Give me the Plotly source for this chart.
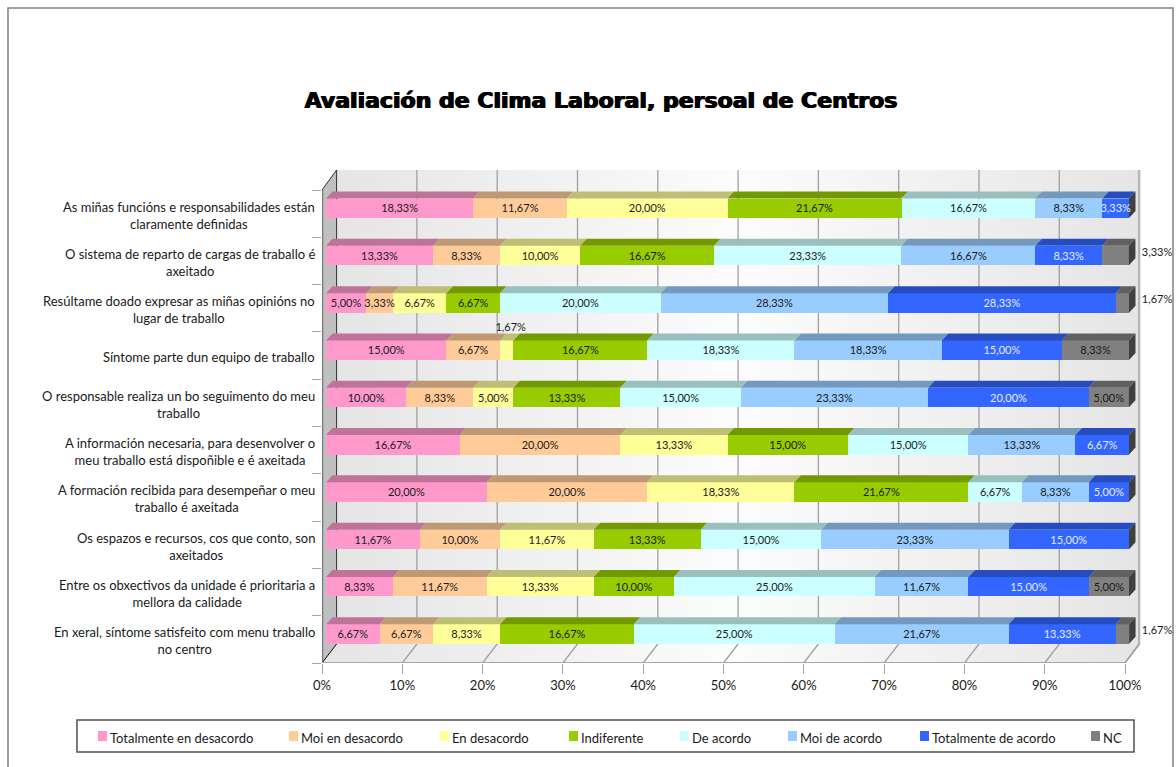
"""
Avaliacion de Clima Laboral, stacked 3D look bars
"""
import numpy as np
import plotly.graph_objs as go

categories = [
    "As miñas funcións e responsabilidades están<br>claramente definidas",
    "O sistema de reparto de cargas de traballo é<br>axeitado",
    "Resúltame doado expresar as miñas opinións no<br>lugar de traballo",
    "Síntome parte dun equipo de traballo",
    "O responsable realiza un bo seguimento do meu<br>traballo",
    "A información necesaria, para desenvolver o<br>meu traballo está dispoñible e é axeitada",
    "A formación recibida para desempeñar o meu<br>traballo é axeitada",
    "Os espazos e recursos, cos que conto, son<br>axeitados",
    "Entre os obxectivos da unidade é prioritaria a<br>mellora da calidade",
    "En xeral, síntome satisfeito com menu traballo<br>no centro",
]
totalmente_desacordo = [18.33, 13.33, 5.00, 15.00, 10.00, 16.67, 20.00, 11.67, 8.33, 6.67]
moi_desacordo = [11.67, 8.33, 3.33, 6.67, 8.33, 20.00, 20.00, 10.00, 11.67, 6.67]
en_desacordo = [20.00, 10.00, 6.67, 1.67, 5.00, 13.33, 18.33, 11.67, 13.33, 8.33]
indiferente = [21.67, 16.67, 6.67, 16.67, 13.33, 15.00, 21.67, 13.33, 10.00, 16.67]
de_acordo = [16.67, 23.33, 20.00, 18.33, 15.00, 15.00, 6.67, 15.00, 25.00, 25.00]
moi_acordo = [8.33, 16.67, 28.33, 18.33, 23.33, 13.33, 8.33, 23.33, 11.67, 21.67]
totalmente_acordo = [3.33, 8.33, 28.33, 15.00, 20.00, 6.67, 5.00, 15.00, 15.00, 13.33]
nc = [0, 3.33, 1.67, 8.33, 5.00, 0, 0, 0, 5.00, 1.67]
tick_values = [0, 10, 20, 30, 40, 50, 60, 70, 80, 90, 100]

series = [
    ("Totalmente en desacordo", totalmente_desacordo, "#FF99CC", "#BF7399"),
    ("Moi en desacordo", moi_desacordo, "#FFCC99", "#BF9973"),
    ("En desacordo", en_desacordo, "#FFFF99", "#BFBF73"),
    ("Indiferente", indiferente, "#99CC00", "#739900"),
    ("De acordo", de_acordo, "#CCFFFF", "#99BFBF"),
    ("Moi de acordo", moi_acordo, "#99CCFF", "#7399BF"),
    ("Totalmente de acordo", totalmente_acordo, "#3366FF", "#264DBF"),
    ("NC", nc, "#808080", "#606060"),
]
legend_left = [98, 289, 440, 569, 680, 788, 920, 1091]

# pixel frame of the chart, plot area runs to the page edge so the side labels survive
W, H = 1176, 767
LEFT, WALL_RIGHT, TOP, FLOOR = 322, 1139, 170, 663
PX_X = 8.03
PX_Y = 47.3
DEPTH_X = 14.6 / PX_X
DEPTH_Y = 19 / PX_Y
BAR_DX = 6.5 / PX_X
BAR_DY = 7 / PX_Y
BAR_H = 19.5 / PX_Y
SHIFT_X = 4 / PX_X
SHIFT_Y = 5.35 / PX_Y
FONT = "Lato"

x_wall = (WALL_RIGHT - LEFT) / PX_X
x_max = (W - LEFT) / PX_X
y_top = 9.5 - (FLOOR - TOP) / PX_Y


def fx(px):
    return (px - LEFT) / (W - LEFT)


def fy(py):
    return (FLOOR - py) / (FLOOR - TOP)


def label(v):
    return f"{v:.2f}%".replace(".", ",")


def wall(xs, ys, stops):
    return go.Scatter(x=xs, y=ys, mode="lines", fill="toself", line=dict(width=0),
                      fillgradient=dict(type="horizontal", colorscale=stops),
                      hoverinfo="skip", showlegend=False)


def edge(xs, ys, color, width=1):
    return go.Scatter(x=xs, y=ys, mode="lines", line=dict(color=color, width=width),
                      hoverinfo="skip", showlegend=False, cliponaxis=False)


fig = go.Figure()

# walls and floor live on the back axes
shade = [[0, "#E5E5E5"], [0.5, "#FCFCFC"], [1, "#E5E5E5"]]
fig.add_trace(wall([DEPTH_X, x_wall, x_wall, DEPTH_X, DEPTH_X],
                   [y_top, y_top, 9.5 - DEPTH_Y, 9.5 - DEPTH_Y, y_top], shade))
fig.add_trace(wall([0, 100, x_wall, DEPTH_X, 0],
                   [9.5, 9.5, 9.5 - DEPTH_Y, 9.5 - DEPTH_Y, 9.5], shade))

grid_x, grid_y = [], []
for t in tick_values[1:]:
    grid_x += [t, t + DEPTH_X, t + DEPTH_X, None]
    grid_y += [9.5, 9.5 - DEPTH_Y, y_top, None]
fig.add_trace(edge(grid_x, grid_y, "#A0A0A0", 1.3))
fig.add_trace(edge([0, 0], [-0.5, 9.5], "#777777", 2.5))
fig.add_trace(edge([0, DEPTH_X, DEPTH_X], [-0.5, y_top, 9.5 - DEPTH_Y], "#303030", 1))
fig.add_trace(edge([0, DEPTH_X], [9.5, 9.5 - DEPTH_Y], "#000000", 1))
fig.add_trace(edge([x_wall, x_wall], [y_top, 9.5 - DEPTH_Y], "#B4B4B4", 2))
fig.add_trace(edge([0, 100], [9.5, 9.5], "#A6A6A6", 2))
fig.add_trace(edge([100, x_wall], [9.5, 9.5 - DEPTH_Y], "#A0A0A0", 1.3))

# bars and their depth faces on the front axes
rows = np.arange(len(categories))
base = np.zeros(len(categories))
for name, values, color, top_color in series:
    values = np.array(values)
    fig.add_trace(go.Bar(y=rows, x=values, base=base, name=name, orientation="h", width=BAR_H,
                         marker=dict(color=color, line=dict(width=0)), showlegend=False,
                         xaxis="x2", yaxis="y2", hovertemplate="%{x:.2f}%<extra>" + name + "</extra>"))
    face_x, face_y = [], []
    for r, v, b in zip(rows, values, base):
        if v == 0:
            continue
        y0 = r - BAR_H / 2
        face_x += [b, b + v, b + v + BAR_DX, b + BAR_DX, b, None]
        face_y += [y0, y0, y0 - BAR_DY, y0 - BAR_DY, y0, None]
    fig.add_trace(go.Scatter(x=face_x, y=face_y, mode="lines", fill="toself", fillcolor=top_color,
                             line=dict(width=0), xaxis="x2", yaxis="y2",
                             hoverinfo="skip", showlegend=False))
    base = base + values

# right-hand side of each stack
side_x, side_y = [], []
for r, b in zip(rows, base):
    y0, y1 = r - BAR_H / 2, r + BAR_H / 2
    side_x += [b, b + BAR_DX, b + BAR_DX, b, b, None]
    side_y += [y0, y0 - BAR_DY, y1 - BAR_DY, y1, y0, None]
fig.add_trace(go.Scatter(x=side_x, y=side_y, mode="lines", fill="toself", fillcolor="#404040",
                         line=dict(width=0), xaxis="x2", yaxis="y2",
                         hoverinfo="skip", showlegend=False))

# data labels, the thin segments sit outside of the bar
base = np.zeros(len(categories))
for name, values, color, top_color in series:
    values = np.array(values)
    text_x, text_y, text = [], [], []
    for r, v, b in zip(rows, values, base):
        if v == 0:
            continue
        mid, y = b + v / 2, r + 0.03
        if name == "NC" and v < 5:
            mid, y = 103.5, r - 0.05
        if name == "En desacordo" and v < 3:
            mid, y = mid + 0.5, r - 0.47
        text_x.append(mid)
        text_y.append(y)
        text.append(label(v))
    text_color = "#E4ECFF" if name == "Totalmente de acordo" else "#1A1A1A"
    fig.add_trace(go.Scatter(x=text_x, y=text_y, text=text, mode="text", textposition="middle center",
                             textfont=dict(family=FONT, size=11, color=text_color),
                             xaxis="x2", yaxis="y2", hoverinfo="skip", showlegend=False,
                             cliponaxis=False))
    base = base + values

# category labels are centred line by line
annotations = []
for r, cat in zip(rows, categories):
    annotations.append(dict(x=fx(317), xref="paper", y=r + 0.03, yref="y", text=cat, showarrow=False,
                            xanchor="right", yanchor="middle", align="center",
                            font=dict(family=FONT, size=13, color="#1A1A1A")))

# side wall as a shape, legend box drawn by hand since the native one
# can not keep the swatch this near its text
shapes = [
    dict(type="path", xref="x", yref="y", layer="below", fillcolor="#C0C0C0", line=dict(width=0),
         path=f"M 0 -0.5 L {DEPTH_X} {y_top} L {DEPTH_X} {9.5 - DEPTH_Y} L 0 9.5 Z"),
    dict(type="rect", xref="paper", yref="paper", x0=fx(8), x1=fx(1173), y0=fy(8), y1=fy(790),
         line=dict(color="#808080", width=1.5), layer="below"),
    dict(type="rect", xref="paper", yref="paper", x0=fx(77), x1=fx(1134), y0=fy(720), y1=fy(752),
         line=dict(color="#505050", width=1.5), fillcolor="white", layer="below"),
]
for (name, values, color, top_color), left in zip(series, legend_left):
    shapes.append(dict(type="rect", xref="paper", yref="paper", x0=fx(left), x1=fx(left + 9),
                       y0=fy(731), y1=fy(741), line=dict(width=0), fillcolor=color))
    annotations.append(dict(x=fx(left + 10), xref="paper", y=fy(737.5), yref="paper", text=name,
                            showarrow=False, xanchor="left", yanchor="middle",
                            font=dict(family=FONT, size=13, color="#1A1A1A")))

fig.update_layout(
    width=W, height=H,
    margin=dict(l=LEFT, r=0, t=TOP, b=H - FLOOR, pad=0),
    paper_bgcolor="white", plot_bgcolor="rgba(0,0,0,0)",
    barmode="stack", showlegend=False,
    title=dict(text="<b>Avaliación de Clima Laboral, persoal de Centros</b>",
               x=601 / W, xanchor="center", y=1 - 100 / H, yanchor="middle",
               font=dict(family="DejaVu Sans", size=22, color="black",
                         shadow="0.7px 0 0 #000, -0.7px 0 0 #000")),
    xaxis=dict(range=[0, x_max], tickvals=tick_values, ticktext=[f"{t}%" for t in tick_values],
               showgrid=False, zeroline=False, showline=False,
               ticks="outside", ticklen=10, tickcolor="#A6A6A6", tickwidth=1,
               tickfont=dict(family=FONT, size=13, color="#1A1A1A")),
    yaxis=dict(range=[9.5, y_top], showgrid=False, zeroline=False, showticklabels=False,
               tickvals=[i - 0.5 for i in range(11)], ticks="outside", ticklen=9,
               tickcolor="#A6A6A6", tickwidth=1),
    xaxis2=dict(range=[-SHIFT_X, x_max - SHIFT_X], overlaying="x", anchor="y2", visible=False),
    yaxis2=dict(range=[9.5 + SHIFT_Y, y_top + SHIFT_Y], overlaying="y", anchor="x2", visible=False),
    annotations=annotations,
    shapes=shapes,
)

fig.write_html("out.html", config={"displayModeBar": False},
               post_script="document.body.style.margin='0';")
